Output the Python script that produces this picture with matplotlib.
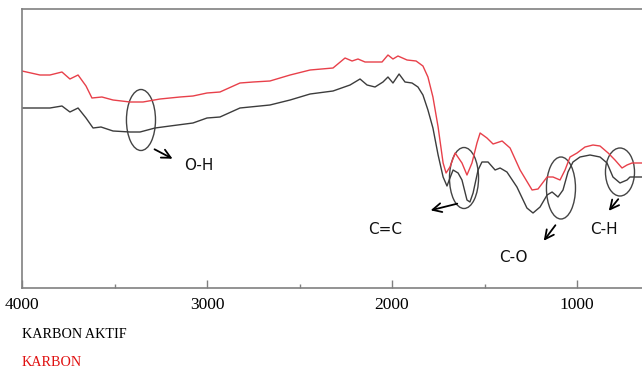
import matplotlib
matplotlib.use("Agg")
import matplotlib.pyplot as plt
from matplotlib.patches import Ellipse

# KARBON AKTIF (black) spectrum: wavenumber (cm-1) and transmittance (arb. units)
wn_aktif = [4000, 3903, 3849, 3784, 3741, 3697, 3654, 3616, 3573, 3508, 3416, 3362,
            3281, 3200, 3076, 3000, 2930, 2822, 2660, 2551, 2443, 2319, 2227, 2173,
            2135, 2092, 2049, 2022, 1995, 1962, 1930, 1892, 1860, 1833, 1806, 1779,
            1751, 1724, 1703, 1687, 1670, 1643, 1622, 1595, 1579, 1562, 1535, 1514,
            1481, 1443, 1416, 1379, 1325, 1271, 1238, 1200, 1162, 1135, 1103, 1076,
            1049, 1022, 984, 930, 876, 838, 806, 768, 730, 714, 649]
t_aktif = [180, 180, 180, 182, 176, 180, 170, 160, 161, 157, 156, 156,
           160, 162, 165, 170, 171, 180, 183, 188, 194, 197, 203, 209,
           203, 201, 206, 211, 205, 214, 206, 205, 201, 193, 178, 160,
           133, 111, 102, 110, 118, 115, 108, 88, 86, 95, 118, 126,
           126, 118, 120, 116, 101, 80, 75, 81, 93, 96, 91, 98,
           116, 126, 131, 133, 131, 125, 111, 105, 108, 111, 111]

# KARBON (red) spectrum
wn_karbon = [4000, 3903, 3849, 3784, 3741, 3697, 3654, 3622, 3568, 3508, 3416, 3346,
             3254, 3146, 3076, 3000, 2930, 2822, 2751, 2660, 2551, 2443, 2319, 2254,
             2216, 2184, 2146, 2054, 2022, 1995, 1968, 1919, 1870, 1833, 1806, 1779,
             1751, 1724, 1708, 1687, 1659, 1622, 1595, 1568, 1541, 1524, 1487, 1454,
             1405, 1362, 1308, 1243, 1211, 1162, 1130, 1092, 1065, 1038, 1000, 957,
             914, 876, 832, 795, 757, 730, 703, 649]
t_karbon = [217, 213, 213, 216, 209, 213, 202, 190, 191, 188, 186, 186,
            189, 191, 192, 195, 196, 205, 206, 207, 213, 218, 220, 230,
            227, 229, 226, 226, 233, 229, 232, 228, 227, 222, 211, 191,
            161, 125, 115, 121, 135, 125, 113, 125, 145, 155, 150, 144,
            147, 140, 118, 98, 99, 111, 111, 108, 118, 131, 135, 141,
            143, 142, 135, 128, 120, 123, 125, 125]

major_ticks = [4000, 3000, 2000, 1000]
minor_ticks = [3500, 2500, 1500]
tick_labels = ["4000", "3000", "2000", "1000"]

fig = plt.figure(figsize=(6.42, 3.67), dpi=100)
ax = fig.add_axes([22 / 642, 79 / 367, 620 / 642, 279 / 367])

ax.plot(wn_aktif, t_aktif, color="#3c3c3c", lw=1.0, solid_joinstyle="round")
ax.plot(wn_karbon, t_karbon, color="#e8404a", lw=1.0, solid_joinstyle="round")

ax.set_xlim(4000, 649)
ax.set_ylim(0, 279)

spine_c = "#808080"
for s in ["left", "top", "bottom"]:
    ax.spines[s].set_color(spine_c)
    ax.spines[s].set_linewidth(1.2)
ax.spines["right"].set_visible(False)

ax.set_xticks(major_ticks)
ax.set_xticklabels(tick_labels, family="Liberation Serif", fontsize=12.5)
ax.set_xticks(minor_ticks, minor=True)
ax.tick_params(axis="x", which="major", direction="in", length=6, width=1, color=spine_c, pad=6.5)
ax.tick_params(axis="x", which="minor", direction="in", length=3, width=1, color=spine_c)
ax.set_yticks([])

# annotation ellipses
ell_c = "#444444"
for (cx, cy, w, h) in [(3357, 168, 157, 61), (1611, 110, 157, 61),
                       (1087, 100, 157, 62), (768, 116, 157, 48)]:
    ax.add_patch(Ellipse((cx, cy), w, h, fill=False, edgecolor=ell_c, lw=1.0))

arrow_kw = dict(arrowstyle="->", color="black", lw=1.3, mutation_scale=16)
ann_font = dict(family="DejaVu Sans", fontsize=11, color="#111111")
ax.annotate("", xy=(3173, 128), xytext=(3297, 140), arrowprops=arrow_kw)
ax.text(3124, 123, "O-H", ha="left", va="center", **ann_font)
ax.annotate("", xy=(1806, 77), xytext=(1633, 85), arrowprops=arrow_kw)
ax.text(2038, 59, "C=C", ha="center", va="center", **ann_font)
ax.annotate("", xy=(1189, 45), xytext=(1108, 65), arrowprops=arrow_kw)
ax.text(1346, 31, "C-O", ha="center", va="center", **ann_font)
ax.annotate("", xy=(838, 75), xytext=(768, 91), arrowprops=arrow_kw)
ax.text(854, 59, "C-H", ha="center", va="center", **ann_font)

fig.text(22 / 642, 1 - 334 / 367, "KARBON AKTIF", family="Liberation Serif",
         fontsize=10.2, color="black", va="center", ha="left")
fig.text(22 / 642, 1 - 362 / 367, "KARBON", family="Liberation Serif",
         fontsize=10.2, color="#e01010", va="center", ha="left")

fig.savefig("out.png", dpi=100)
